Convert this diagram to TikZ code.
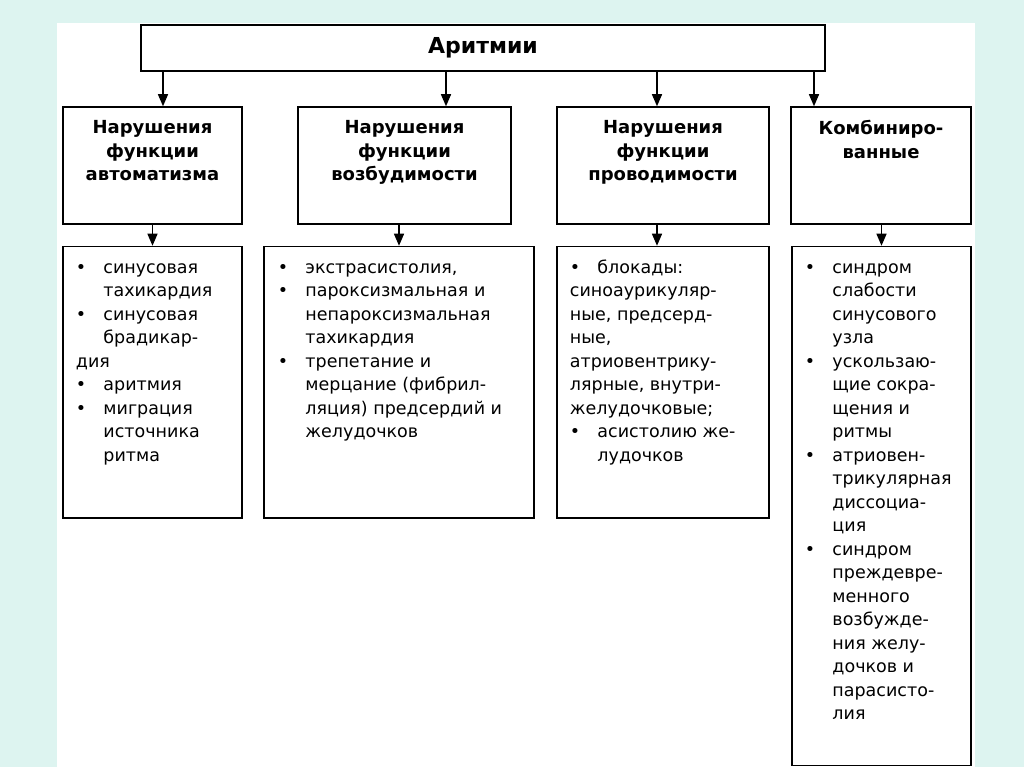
\documentclass[tikz,border=0pt]{standalone}
\usepackage{fontspec}
\setmainfont{DejaVu Sans}
\usetikzlibrary{arrows.meta,positioning}
\definecolor{bgmint}{RGB}{221,244,240}
\newcommand{\itm}{\makebox[27.5pt][l]{\rule{0pt}{14pt}•}}
\newcommand{\ind}{\hspace*{27.5pt}}

\begin{document}
\begin{tikzpicture}[x=1pt,y=-1pt,
    box/.style={draw,line width=1.5pt,inner sep=0pt},
    head/.style={font=\bfseries\fontsize{18}{23.5}\selectfont,align=center,inner sep=0pt},
    list/.style={font=\fontsize{17.5}{23.5}\selectfont,align=left,inner sep=0pt},
    arr/.style={-{Triangle[width=10pt,length=12pt]},line width=1.3pt}]
        \fill[bgmint] (0,0) rectangle (1024,767);
        \fill[white] (57,23) rectangle (975,767);
        % top
        \node[box,minimum width=684pt,minimum height=46pt,font=\bfseries\fontsize{22}{26}\selectfont] (arit) at (483,48) {Аритмии};
        % groups
        \node[box,minimum width=179pt,minimum height=117pt] (avt) at (152.5,165.5) {};
        \node[box,minimum width=213pt,minimum height=117pt] (vozb) at (404.5,165.5) {};
        \node[box,minimum width=212pt,minimum height=117pt] (prov) at (663,165.5) {};
        \node[box,minimum width=180pt,minimum height=117pt] (komb) at (881,165.5) {};
        \node[head,below=14pt of avt.north] (avt-t) {Нарушения\\функции\\автоматизма};
        \node[head,below=14pt of vozb.north] (vozb-t) {Нарушения\\функции\\возбудимости};
        \node[head,below=14pt of prov.north] (prov-t) {Нарушения\\функции\\проводимости};
        \node[head,below=14pt of komb.north] (komb-t) {Комбиниро-\\ванные};
        % lists
        \node[box,minimum width=179pt,minimum height=271.5pt] (lavt) at (152.5,382.25) {};
        \node[box,minimum width=270pt,minimum height=271.5pt] (lvozb) at (399,382.25) {};
        \node[box,minimum width=212pt,minimum height=271.5pt] (lprov) at (663,382.25) {};
        \node[box,minimum width=179pt,minimum height=519pt] (lkomb) at (881.5,506) {};
        \node[list,below right=13.5pt and 13.5pt of lavt.north west] (lavt-t) {%
            \itm синусовая\\ \ind тахикардия\\ \itm синусовая\\ \ind брадикар-\\ дия\\
            \itm аритмия\\ \itm миграция\\ \ind источника\\ \ind ритма};
        \node[list,below right=13.5pt and 14.5pt of lvozb.north west] (lvozb-t) {%
            \itm экстрасистолия,\\ \itm пароксизмальная и\\ \ind непароксизмальная\\ \ind тахикардия\\
            \itm трепетание и\\ \ind мерцание (фибрил-\\ \ind ляция) предсердий и\\ \ind желудочков};
        \node[list,below right=13.5pt and 13.5pt of lprov.north west] (lprov-t) {%
            \itm блокады:\\ синоаурикуляр-\\ ные, предсерд-\\ ные,\\ атриовентрику-\\
            лярные, внутри-\\ желудочковые;\\ \itm асистолию же-\\ \ind лудочков};
        \node[list,below right=13.5pt and 13.5pt of lkomb.north west] (lkomb-t) {%
            \itm синдром\\ \ind слабости\\ \ind синусового\\ \ind узла\\
            \itm ускользаю-\\ \ind щие сокра-\\ \ind щения и\\ \ind ритмы\\
            \itm атриовен-\\ \ind трикулярная\\ \ind диссоциа-\\ \ind ция\\
            \itm синдром\\ \ind преждевре-\\ \ind менного\\ \ind возбужде-\\
            \ind ния желу-\\ \ind дочков и\\ \ind парасисто-\\ \ind лия};
        % arrows
        \coordinate (a1) at ([xshift=10.5pt]avt.north);
        \coordinate (a2) at ([xshift=41.5pt]vozb.north);
        \coordinate (a3) at ([xshift=-6pt]prov.north);
        \coordinate (a4) at ([xshift=-67pt]komb.north);
        \coordinate (b3) at ([xshift=-6pt]lprov.north);
        \draw[arr] (a1 |- arit.south) -- (a1);
        \draw[arr] (a2 |- arit.south) -- (a2);
        \draw[arr] (a3 |- arit.south) -- (a3);
        \draw[arr] (a4 |- arit.south) -- (a4);
        \draw[arr] (avt.south -| lavt.north) -- (lavt.north);
        \draw[arr] (vozb.south -| lvozb.north) -- (lvozb.north);
        \draw[arr] (b3 |- prov.south) -- (b3);
        \draw[arr] (komb.south -| lkomb.north) -- (lkomb.north);
\end{tikzpicture}
\end{document}
